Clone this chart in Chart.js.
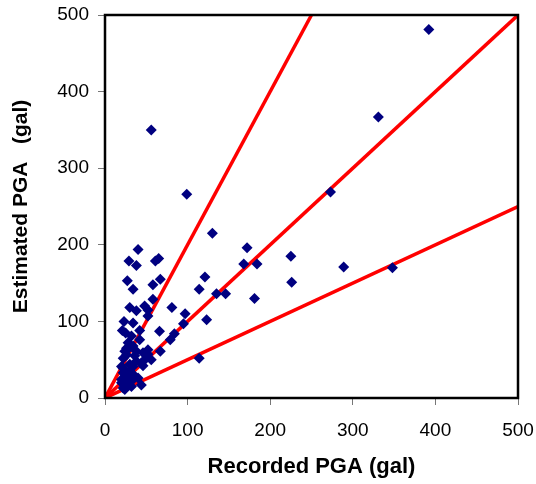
<!DOCTYPE html>
<html>
<head>
<meta charset="utf-8">
<script src="https://cdn.jsdelivr.net/npm/chart.js@4"></script>
<style>
  html, body { margin: 0; padding: 0; background: #fff; }
  #wrap { width: 536px; height: 484px; }
</style>
</head>
<body>
<div id="wrap"><canvas id="pgaChart" width="536" height="484"></canvas></div>
<script>
// recorded vs estimated PGA, gal
const recorded = [392, 331, 56, 99, 273, 130, 172, 168, 184, 225, 289, 348, 121, 114, 135, 146, 226, 181, 123, 114,
  40, 29, 38, 61, 65, 27, 34, 58, 67, 58, 30, 38, 48, 52, 52, 81, 97, 23, 34, 21, 25, 66, 95, 84, 79, 67, 44,
  42, 28, 34, 24, 38, 46, 50, 22, 38, 30, 46, 22, 24, 34, 28, 22, 32, 52, 26, 30, 40, 26, 20, 36, 28, 42,
  32, 26, 52, 56, 44, 20, 34, 22, 30, 20, 26, 34, 24];
const estimated = [481, 367, 350, 266, 269, 215, 196, 175, 175, 185, 171, 170, 158, 142, 136, 136, 151, 130, 102, 52,
  194, 179, 173, 179, 182, 153, 142, 148, 155, 129, 118, 114, 120, 115, 107, 118, 110, 100, 98, 88, 85, 87, 97, 84, 76, 61, 17,
  76, 72, 68, 61, 61, 59, 52, 52, 48, 44, 42, 39, 31, 31, 22, 13, 15, 57, 56, 36, 26, 26, 20, 55, 64, 88,
  81, 65, 63, 50, 46, 41, 41, 33, 28, 24, 20, 24, 11];

// reference lines: y = 2x, y = x, y = x/2
const lineX = [[0, 250], [0, 500], [0, 500]];
const lineY = [[0, 500], [0, 500], [0, 250]];

const axisTicks = [0, 100, 200, 300, 400, 500];

const points = recorded.map((x, i) => ({ x: x, y: estimated[i] }));

const refSets = lineX.map((xs, k) => ({
  type: 'line',
  data: xs.map((x, j) => ({ x: x, y: lineY[k][j] })),
  borderColor: '#ff0000',
  borderWidth: 3.5,
  pointRadius: 0,
  fill: false,
  order: 2
}));

const boxPlugin = {
  id: 'box',
  afterDatasetsDraw(chart) {
    const { ctx, chartArea: a } = chart;
    ctx.save();
    ctx.strokeStyle = '#000';
    ctx.lineWidth = 2.5;
    ctx.strokeRect(a.left, a.top, a.right - a.left, a.bottom - a.top);
    ctx.restore();
  }
};

const font = 'Liberation Sans, Arial, sans-serif';

// fixed axis sizes, no extra room for the end labels
const fitX = s => { s.height = 86; s.paddingLeft = 0; s.paddingRight = 0; };
const fitY = s => { s.width = 105; s.paddingTop = 0; s.paddingBottom = 0; };

new Chart(document.getElementById('pgaChart'), {
  type: 'scatter',
  data: {
    datasets: [{
      data: points,
      pointStyle: 'rectRot',
      pointRadius: 5.5,
      pointBorderWidth: 0,
      backgroundColor: '#000080',
      borderColor: '#000080',
      order: 1
    }, ...refSets]
  },
  options: {
    responsive: false,
    animation: false,
    events: [],
    layout: { padding: { top: 15, right: 18, left: 0, bottom: 0 } },
    plugins: { legend: { display: false }, tooltip: { enabled: false } },
    scales: {
      x: {
        type: 'linear',
        min: 0, max: 500,
        afterBuildTicks: s => { s.ticks = axisTicks.map(v => ({ value: v })); },
        afterFit: fitX,
        grid: { drawOnChartArea: false, drawTicks: true, tickLength: 7, color: '#777' },
        border: { display: true, color: '#000', width: 2 },
        ticks: { color: '#000', font: { family: font, size: 19 }, padding: 14 },
        title: { display: true, text: 'Recorded PGA (gal)', color: '#000',
                 font: { family: font, size: 22, weight: 'bold' }, padding: { top: 9 } }
      },
      y: {
        type: 'linear',
        min: 0, max: 500,
        afterBuildTicks: s => { s.ticks = axisTicks.map(v => ({ value: v })); },
        afterFit: fitY,
        grid: { drawOnChartArea: false, drawTicks: true, tickLength: 7, color: '#777' },
        border: { display: true, color: '#000', width: 2 },
        ticks: { color: '#000', font: { family: font, size: 19 }, padding: 9 },
        title: { display: true, text: 'Estimated PGA   (gal)', color: '#000',
                 font: { family: font, size: 21, weight: 'bold' }, padding: { top: 9, bottom: 4 } }
      }
    }
  },
  plugins: [boxPlugin]
});
</script>
</body>
</html>
